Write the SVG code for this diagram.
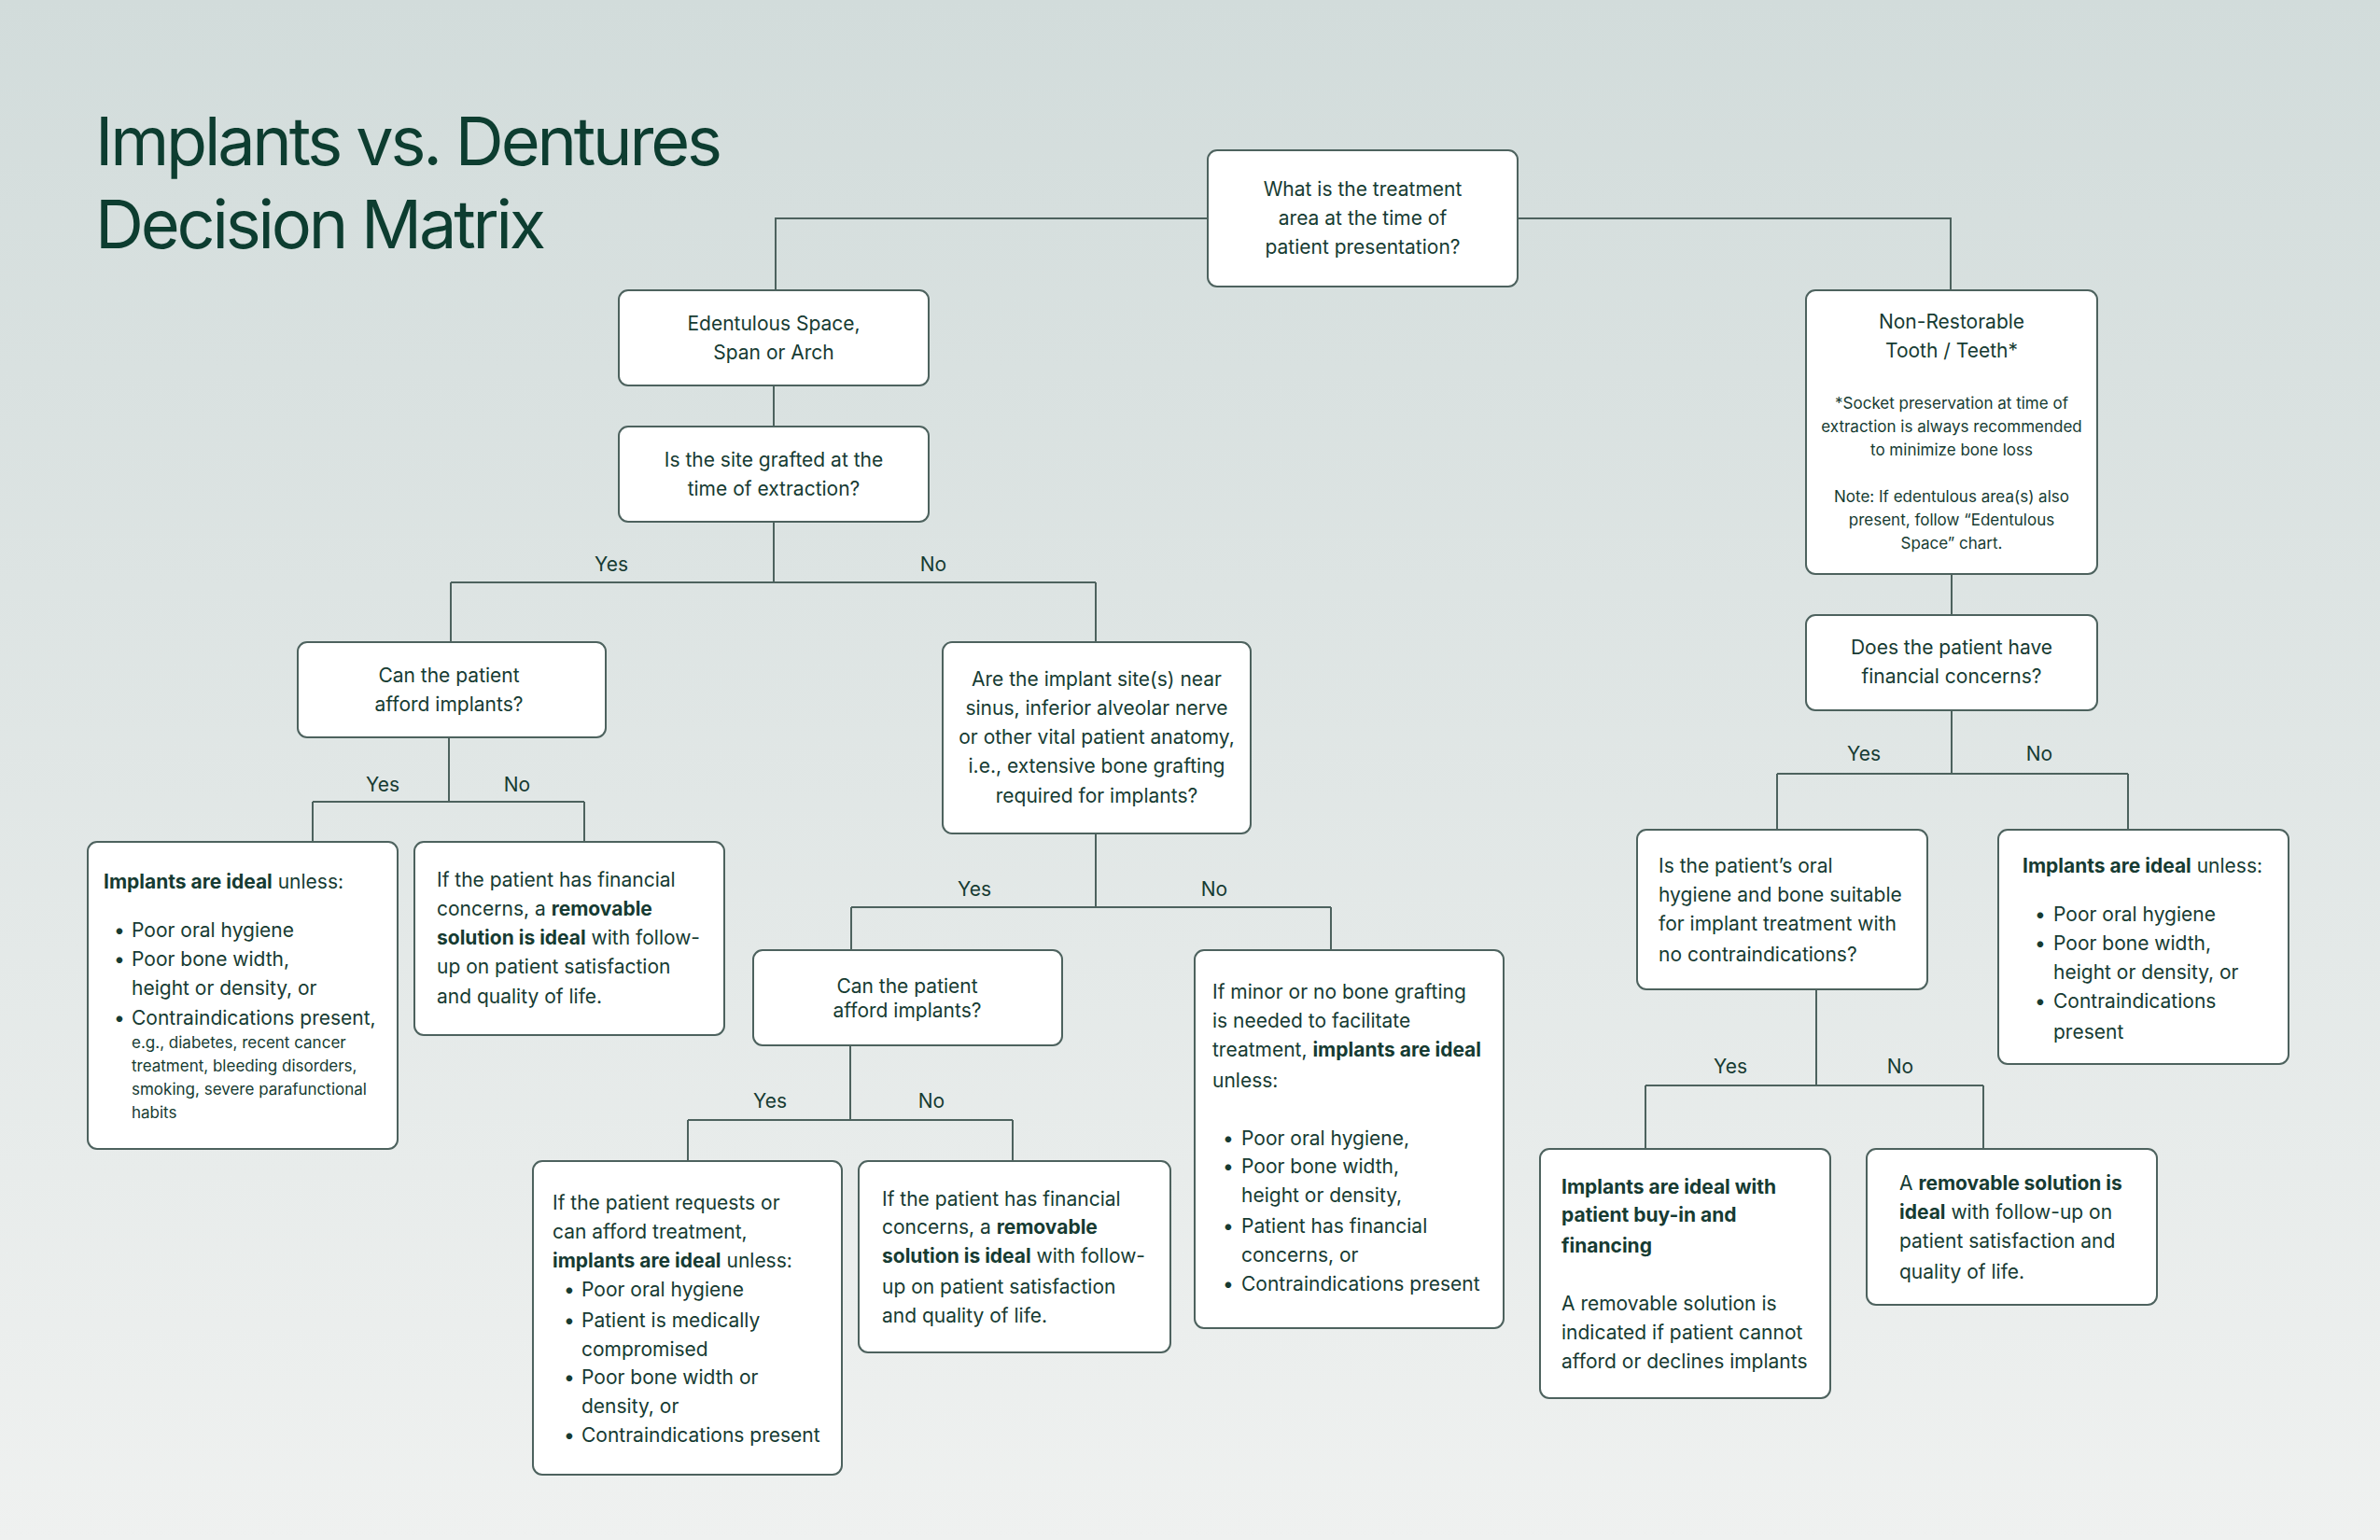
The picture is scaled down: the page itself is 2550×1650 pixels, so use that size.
<svg xmlns="http://www.w3.org/2000/svg" width="2550" height="1650" viewBox="0 0 2550 1650">
<defs>
<linearGradient id="bg" x1="0" y1="0" x2="0" y2="1">
<stop offset="0" stop-color="#d2dcdb"/><stop offset="1" stop-color="#eff1f0"/>
</linearGradient>
<style>
.b{fill:#fff;stroke:#4d625e;stroke-width:2}
text{font-family:Inter,"Liberation Sans",sans-serif;fill:#163b32;font-size:21px}
.c{text-anchor:middle}
.s{font-size:17px}
.t{font-size:72px;fill:#0d3d30;letter-spacing:-3.2px}
.w{font-weight:bold}
.l{fill:none;stroke:#4d625e;stroke-width:2}
</style>
</defs>
<rect width="2550" height="1650" fill="url(#bg)"/>
<text class="t" x="102" y="177">Implants vs. Dentures</text>
<text class="t" x="102" y="266">Decision Matrix</text>
<g id="connectors">
<path class="l" d="M1294 234H831V311M1626 234H2090V311"/>
<path class="l" d="M829 413V457M829 559V624M483 624H1174M483 624V688M1174 624V688"/>
<path class="l" d="M481 790V859M335 859H626M335 859V902M626 859V902"/>
<path class="l" d="M1174 893V972M912 972H1426M912 972V1018M1426 972V1018"/>
<path class="l" d="M911 1120V1200M737 1200H1085M737 1200V1244M1085 1200V1244"/>
<path class="l" d="M2091 615V659M2091 761V829M1904 829H2280M1904 829V889M2280 829V889"/>
<path class="l" d="M1946 1060V1163M1763 1163H2125M1763 1163V1231M2125 1163V1231"/>
<text x="655" y="612" class="c">Yes</text><text x="1000" y="612" class="c">No</text>
<text x="410" y="848" class="c">Yes</text><text x="554" y="848" class="c">No</text>
<text x="1044" y="960" class="c">Yes</text><text x="1301" y="960" class="c">No</text>
<text x="825" y="1187" class="c">Yes</text><text x="998" y="1187" class="c">No</text>
<text x="1997" y="815" class="c">Yes</text><text x="2185" y="815" class="c">No</text>
<text x="1854" y="1150" class="c">Yes</text><text x="2036" y="1150" class="c">No</text>
</g>
<g id="root"><rect class="b" x="1294" y="161" width="332" height="146" rx="10"/>
<text class="c" x="1460" y="210">What is the treatment</text><text class="c" x="1460" y="241">area at the time of</text><text class="c" x="1460" y="272">patient presentation?</text></g>
<g id="edentulous"><rect class="b" x="663" y="311" width="332" height="102" rx="10"/>
<text class="c" x="829" y="354">Edentulous Space,</text><text class="c" x="829" y="385">Span or Arch</text></g>
<g id="grafted"><rect class="b" x="663" y="457" width="332" height="102" rx="10"/>
<text class="c" x="829" y="500">Is the site grafted at the</text><text class="c" x="829" y="531">time of extraction?</text></g>
<g id="afford1"><rect class="b" x="319" y="688" width="330" height="102" rx="10"/>
<text class="c" x="481" y="731">Can the patient</text><text class="c" x="481" y="762">afford implants?</text></g>
<g id="anatomy"><rect class="b" x="1010" y="688" width="330" height="205" rx="10"/>
<text class="c" x="1175" y="735">Are the implant site(s) near</text><text class="c" x="1175" y="766">sinus, inferior alveolar nerve</text><text class="c" x="1175" y="797">or other vital patient anatomy,</text><text class="c" x="1175" y="828">i.e., extensive bone grafting</text><text class="c" x="1175" y="860">required for implants?</text></g>
<g id="ideal1"><rect class="b" x="94" y="902" width="332" height="329" rx="10"/>
<text x="111" y="952"><tspan class="w">Implants are ideal</tspan> unless:</text>
<text x="122" y="1004">•</text><text x="141" y="1004">Poor oral hygiene</text>
<text x="122" y="1035">•</text><text x="141" y="1035">Poor bone width,</text>
<text x="141" y="1066">height or density, or</text>
<text x="122" y="1098">•</text><text x="141" y="1098">Contraindications present,</text>
<text class="s" x="141" y="1123">e.g., diabetes, recent cancer</text>
<text class="s" x="141" y="1148">treatment, bleeding disorders,</text>
<text class="s" x="141" y="1173">smoking, severe parafunctional</text>
<text class="s" x="141" y="1198">habits</text></g>
<g id="fin1"><rect class="b" x="444" y="902" width="332" height="207" rx="10"/>
<text x="468" y="950">If the patient has financial</text>
<text x="468" y="981">concerns, a <tspan class="w">removable</tspan></text>
<text x="468" y="1012"><tspan class="w">solution is ideal</tspan> with follow-</text>
<text x="468" y="1043">up on patient satisfaction</text>
<text x="468" y="1075">and quality of life.</text></g>
<g id="afford2"><rect class="b" x="807" y="1018" width="331" height="102" rx="10"/>
<text class="c" x="972" y="1064">Can the patient</text><text class="c" x="972" y="1090">afford implants?</text></g>
<g id="minor"><rect class="b" x="1280" y="1018" width="331" height="405" rx="10"/>
<text x="1299" y="1070">If minor or no bone grafting</text>
<text x="1299" y="1101">is needed to facilitate</text>
<text x="1299" y="1132">treatment, <tspan class="w">implants are ideal</tspan></text>
<text x="1299" y="1165">unless:</text>
<text x="1310" y="1227">•</text><text x="1330" y="1227">Poor oral hygiene,</text>
<text x="1310" y="1257">•</text><text x="1330" y="1257">Poor bone width,</text>
<text x="1330" y="1288">height or density,</text>
<text x="1310" y="1321">•</text><text x="1330" y="1321">Patient has financial</text>
<text x="1330" y="1352">concerns, or</text>
<text x="1310" y="1383">•</text><text x="1330" y="1383">Contraindications present</text></g>
<g id="requests"><rect class="b" x="571" y="1244" width="331" height="336" rx="10"/>
<text x="592" y="1296">If the patient requests or</text>
<text x="592" y="1327">can afford treatment,</text>
<text x="592" y="1358"><tspan class="w">implants are ideal</tspan> unless:</text>
<text x="604" y="1389">•</text><text x="623" y="1389">Poor oral hygiene</text>
<text x="604" y="1422">•</text><text x="623" y="1422">Patient is medically</text>
<text x="623" y="1453">compromised</text>
<text x="604" y="1483">•</text><text x="623" y="1483">Poor bone width or</text>
<text x="623" y="1514">density, or</text>
<text x="604" y="1545">•</text><text x="623" y="1545">Contraindications present</text></g>
<g id="fin2"><rect class="b" x="920" y="1244" width="334" height="205" rx="10"/>
<text x="945" y="1292">If the patient has financial</text>
<text x="945" y="1322">concerns, a <tspan class="w">removable</tspan></text>
<text x="945" y="1353"><tspan class="w">solution is ideal</tspan> with follow-</text>
<text x="945" y="1386">up on patient satisfaction</text>
<text x="945" y="1417">and quality of life.</text></g>
<g id="nonrestorable"><rect class="b" x="1935" y="311" width="312" height="304" rx="10"/>
<text class="c" x="2091" y="352">Non-Restorable</text><text class="c" x="2091" y="383">Tooth / Teeth*</text>
<text class="c s" x="2091" y="438">*Socket preservation at time of</text>
<text class="c s" x="2091" y="463">extraction is always recommended</text>
<text class="c s" x="2091" y="488">to minimize bone loss</text>
<text class="c s" x="2091" y="538">Note: If edentulous area(s) also</text>
<text class="c s" x="2091" y="563">present, follow “Edentulous</text>
<text class="c s" x="2091" y="588">Space” chart.</text></g>
<g id="financial"><rect class="b" x="1935" y="659" width="312" height="102" rx="10"/>
<text class="c" x="2091" y="701">Does the patient have</text><text class="c" x="2091" y="732">financial concerns?</text></g>
<g id="hygiene"><rect class="b" x="1754" y="889" width="311" height="171" rx="10"/>
<text x="1777" y="935">Is the patient’s oral</text>
<text x="1777" y="966">hygiene and bone suitable</text>
<text x="1777" y="997">for implant treatment with</text>
<text x="1777" y="1030">no contraindications?</text></g>
<g id="ideal2"><rect class="b" x="2141" y="889" width="311" height="251" rx="10"/>
<text x="2167" y="935"><tspan class="w">Implants are ideal</tspan> unless:</text>
<text x="2180" y="987">•</text><text x="2200" y="987">Poor oral hygiene</text>
<text x="2180" y="1018">•</text><text x="2200" y="1018">Poor bone width,</text>
<text x="2200" y="1049">height or density, or</text>
<text x="2180" y="1080">•</text><text x="2200" y="1080">Contraindications</text>
<text x="2200" y="1113">present</text></g>
<g id="buyin"><rect class="b" x="1650" y="1231" width="311" height="267" rx="10"/>
<text class="w" x="1673" y="1279">Implants are ideal with</text>
<text class="w" x="1673" y="1309">patient buy-in and</text>
<text class="w" x="1673" y="1342">financing</text>
<text x="1673" y="1404">A removable solution is</text>
<text x="1673" y="1435">indicated if patient cannot</text>
<text x="1673" y="1466">afford or declines implants</text></g>
<g id="removable"><rect class="b" x="2000" y="1231" width="311" height="167" rx="10"/>
<text x="2035" y="1275">A <tspan class="w">removable solution is</tspan></text>
<text x="2035" y="1306"><tspan class="w">ideal</tspan> with follow-up on</text>
<text x="2035" y="1337">patient satisfaction and</text>
<text x="2035" y="1370">quality of life.</text></g>
</svg>
